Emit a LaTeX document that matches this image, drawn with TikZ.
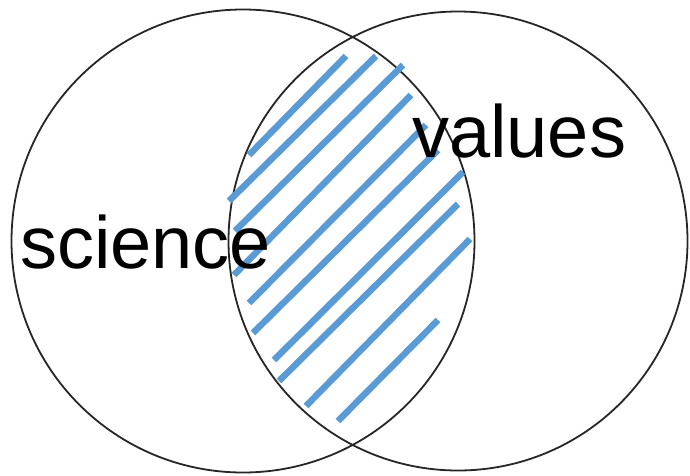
\documentclass[tikz,border=0pt]{standalone}
\usepackage{fontspec}
\setmainfont{Liberation Sans}
\usetikzlibrary{positioning}

\begin{document}
\begin{tikzpicture}[
  x=1pt, y=-1pt,
  set/.style={draw=black!85, circle, line width=1.8pt, inner sep=0pt},
  hatch/.style={line width=6.5pt, color=hatchblue, line cap=butt},
  label/.style={font=\fontsize{74}{74}\selectfont, inner sep=0pt, anchor=base west}
]
\definecolor{hatchblue}{RGB}{91,155,213}
\useasboundingbox (0,0) rectangle (690,475);
\node[set, minimum size=463pt] (sci) at (243,241) {};
\node[set, minimum size=459pt] (val) at (458,241) {};
\draw[hatch] (249,155) -- (346,56);
\draw[hatch] (229,201) -- (376,56);
\draw[hatch] (235,231) -- (403,65);
\draw[hatch] (234,275) -- (411,95);
\draw[hatch] (249,303) -- (426,125);
\draw[hatch] (253,333) -- (438,150);
\draw[hatch] (274,360) -- (463,172);
\draw[hatch] (279,381) -- (458,204);
\draw[hatch] (306,406) -- (470,239);
\draw[hatch] (338,421) -- (438,320);
\node[label] (science) at (20,268) {science};
\node[label] (values) at (412,157) {values};
\end{tikzpicture}
\end{document}
